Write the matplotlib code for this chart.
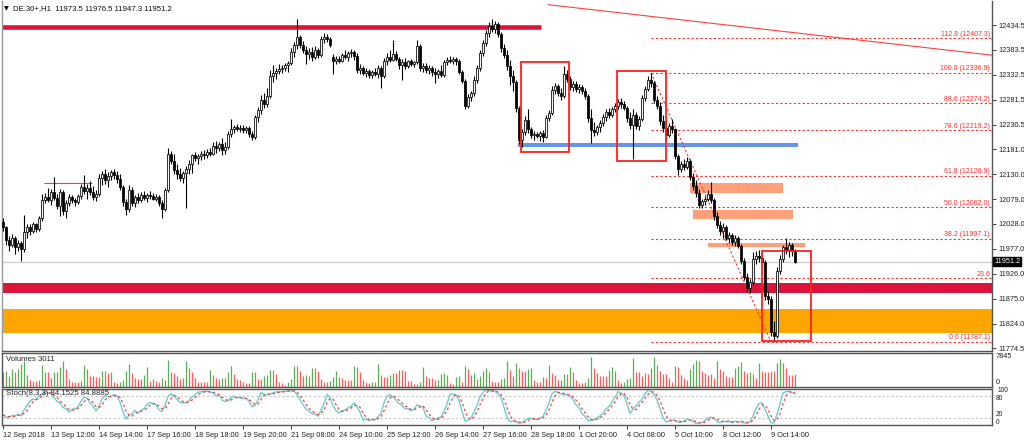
import numpy as np
import matplotlib.pyplot as plt
from matplotlib.patches import Rectangle
from matplotlib.transforms import blended_transform_factory

plt.rcParams['font.family'] = ['Liberation Sans', 'DejaVu Sans']

# DE.30+ H1 bars, 12 Sep 2018 10:00 .. 9 Oct 2018
opens = [
    12032, 12021, 11996, 11986, 12000, 11980, 11990, 11976, 12011, 12021,
    12013, 12027, 12017, 12041, 12078, 12084, 12076, 12094, 12082, 12064,
    12094, 12055, 12070, 12084, 12078, 12072, 12086, 12104, 12096, 12102,
    12094, 12084, 12090, 12122, 12130, 12118, 12126, 12134, 12128, 12120,
    12104, 12072, 12058, 12098, 12070, 12084, 12076, 12088, 12082, 12088,
    12086, 12080, 12084, 12070, 12058, 12098, 12170, 12156, 12138, 12130,
    12122, 12132, 12140, 12150, 12168, 12162, 12166, 12172, 12168, 12176,
    12172, 12188, 12184, 12192, 12180, 12186, 12212, 12222, 12226, 12222,
    12224, 12220, 12224, 12212, 12206, 12246, 12260, 12282, 12274, 12290,
    12330, 12336, 12340, 12344, 12346, 12352, 12356, 12380, 12394, 12410,
    12394, 12384, 12376, 12380, 12370, 12384, 12374, 12406, 12410, 12406,
    12370, 12360, 12366, 12362, 12374, 12370, 12378, 12380, 12372, 12342,
    12346, 12336, 12340, 12332, 12338, 12334, 12346, 12330, 12362, 12370,
    12364, 12376, 12366, 12352, 12358, 12350, 12360, 12354, 12358, 12392,
    12346, 12350, 12342, 12346, 12338, 12334, 12340, 12332, 12358, 12364,
    12360, 12366, 12362, 12338, 12320, 12270, 12288, 12296, 12322, 12346,
    12378, 12398, 12418, 12432, 12426, 12436, 12416, 12388, 12374, 12350,
    12330, 12318, 12264, 12200, 12216, 12240, 12222, 12210, 12212, 12208,
    12214, 12206, 12244, 12254, 12302, 12310, 12296, 12290, 12334, 12324,
    12308, 12314, 12304, 12308, 12300, 12290, 12244, 12220, 12216, 12226,
    12234, 12246, 12256, 12250, 12262, 12270, 12278, 12274, 12266, 12244,
    12230, 12250, 12228, 12242, 12286, 12304, 12322, 12316, 12282, 12270,
    12238, 12224, 12210, 12228, 12222, 12166, 12140, 12150, 12144, 12156,
    12124, 12106, 12092, 12066, 12074, 12080, 12090, 12078, 12044, 12026,
    12014, 12022, 12000, 12006, 11992, 12000, 11984, 11952, 11920, 11898,
    11910, 11956, 11962, 11958, 11950, 11880, 11874, 11808, 11800, 11932,
    11956, 11980, 11974, 11986, 11973.5,
]
highs = [
    12041, 12023, 12003, 12007, 12003, 11996, 11994, 12047, 12027, 12027,
    12033, 12031, 12045, 12090, 12092, 12102, 12100, 12125, 12090, 12100,
    12098, 12078, 12090, 12088, 12082, 12090, 12110, 12128, 12110, 12115,
    12106, 12098, 12130, 12136, 12140, 12134, 12138, 12140, 12136, 12130,
    12108, 12080, 12108, 12104, 12088, 12092, 12094, 12096, 12092, 12096,
    12092, 12090, 12088, 12078, 12102, 12184, 12178, 12170, 12150, 12142,
    12136, 12146, 12158, 12172, 12176, 12170, 12178, 12180, 12182, 12184,
    12196, 12198, 12196, 12204, 12196, 12218, 12242, 12230, 12232, 12230,
    12230, 12228, 12228, 12218, 12250, 12268, 12292, 12296, 12306, 12342,
    12352, 12346, 12354, 12352, 12356, 12360, 12388, 12400, 12446, 12414,
    12402, 12392, 12388, 12390, 12392, 12388, 12412, 12418, 12416, 12410,
    12376, 12372, 12372, 12378, 12384, 12382, 12386, 12384, 12378, 12354,
    12350, 12346, 12344, 12342, 12346, 12352, 12350, 12368, 12378, 12384,
    12404, 12382, 12370, 12366, 12368, 12364, 12366, 12362, 12404, 12396,
    12356, 12356, 12352, 12350, 12346, 12344, 12352, 12364, 12370, 12372,
    12370, 12370, 12366, 12342, 12324, 12294, 12300, 12330, 12352, 12384,
    12404, 12424, 12440, 12446, 12442, 12440, 12420, 12396, 12384, 12364,
    12342, 12322, 12270, 12222, 12248, 12262, 12226, 12218, 12216, 12218,
    12220, 12250, 12260, 12310, 12316, 12314, 12306, 12350, 12342, 12330,
    12320, 12320, 12314, 12312, 12306, 12294, 12262, 12236, 12230, 12240,
    12252, 12262, 12266, 12268, 12276, 12284, 12286, 12280, 12270, 12256,
    12262, 12256, 12248, 12292, 12310, 12330, 12337, 12320, 12290, 12278,
    12250, 12240, 12234, 12242, 12224, 12170, 12156, 12160, 12164, 12160,
    12132, 12118, 12100, 12080, 12086, 12098, 12114, 12082, 12052, 12034,
    12030, 12026, 12012, 12010, 12006, 12004, 11988, 11958, 11928, 11916,
    11970, 11972, 11974, 11970, 11954, 11892, 11880, 11830, 11940, 11964,
    11986, 12000, 11992, 11990, 11976.5,
]
lows = [
    12013, 11986, 11972, 11980, 11966, 11972, 11952, 11970, 12000, 12005,
    12009, 12011, 12013, 12035, 12070, 12072, 12066, 12078, 12058, 12045,
    12047, 12040, 12064, 12070, 12064, 12068, 12080, 12090, 12080, 12088,
    12078, 12074, 12086, 12108, 12110, 12104, 12118, 12120, 12112, 12098,
    12064, 12046, 12052, 12064, 12062, 12070, 12072, 12078, 12072, 12080,
    12076, 12074, 12064, 12040, 12054, 12094, 12150, 12130, 12120, 12116,
    12112, 12060, 12130, 12132, 12156, 12150, 12158, 12160, 12162, 12166,
    12168, 12174, 12178, 12168, 12172, 12182, 12206, 12214, 12218, 12216,
    12214, 12214, 12206, 12200, 12202, 12236, 12252, 12266, 12268, 12286,
    12318, 12324, 12334, 12336, 12340, 12338, 12352, 12370, 12386, 12388,
    12378, 12354, 12366, 12362, 12366, 12368, 12370, 12398, 12400, 12390,
    12334, 12354, 12356, 12358, 12366, 12362, 12370, 12364, 12336, 12334,
    12332, 12328, 12326, 12326, 12330, 12326, 12306, 12326, 12352, 12358,
    12360, 12360, 12344, 12322, 12344, 12346, 12350, 12348, 12354, 12340,
    12338, 12336, 12334, 12330, 12316, 12326, 12328, 12328, 12352, 12356,
    12354, 12352, 12334, 12316, 12262, 12264, 12280, 12290, 12316, 12340,
    12372, 12392, 12410, 12420, 12418, 12410, 12380, 12368, 12342, 12312,
    12300, 12256, 12192, 12186, 12210, 12214, 12204, 12200, 12204, 12198,
    12196, 12204, 12238, 12250, 12294, 12290, 12282, 12286, 12318, 12302,
    12300, 12298, 12296, 12294, 12284, 12236, 12194, 12208, 12210, 12216,
    12228, 12238, 12244, 12246, 12256, 12262, 12266, 12260, 12236, 12222,
    12160, 12222, 12220, 12238, 12280, 12300, 12308, 12276, 12262, 12230,
    12216, 12200, 12206, 12214, 12160, 12128, 12134, 12138, 12140, 12118,
    12098, 12084, 12060, 12060, 12066, 12074, 12070, 12036, 12020, 12006,
    12000, 11996, 11990, 11986, 11984, 11978, 11946, 11914, 11890, 11888,
    11904, 11946, 11950, 11944, 11872, 11864, 11800, 11787.1, 11796, 11926,
    11950, 11966, 11960, 11962, 11947.3,
]
closes = [
    12021, 11996, 11986, 12000, 11980, 11990, 11976, 12011, 12021, 12013,
    12027, 12017, 12041, 12078, 12084, 12076, 12094, 12082, 12064, 12094,
    12055, 12070, 12084, 12078, 12072, 12086, 12104, 12096, 12102, 12094,
    12084, 12090, 12122, 12130, 12118, 12126, 12134, 12128, 12120, 12104,
    12072, 12058, 12098, 12070, 12084, 12076, 12088, 12082, 12088, 12086,
    12080, 12084, 12070, 12058, 12098, 12170, 12156, 12138, 12130, 12122,
    12132, 12140, 12150, 12168, 12162, 12166, 12172, 12168, 12176, 12172,
    12188, 12184, 12192, 12180, 12186, 12212, 12222, 12226, 12222, 12224,
    12220, 12224, 12212, 12206, 12246, 12260, 12282, 12274, 12290, 12330,
    12336, 12340, 12344, 12346, 12352, 12356, 12380, 12394, 12410, 12394,
    12384, 12376, 12380, 12370, 12384, 12374, 12406, 12410, 12406, 12394,
    12360, 12366, 12362, 12374, 12370, 12378, 12380, 12372, 12342, 12346,
    12336, 12340, 12332, 12338, 12334, 12346, 12330, 12362, 12370, 12364,
    12376, 12366, 12352, 12358, 12350, 12360, 12354, 12358, 12392, 12346,
    12350, 12342, 12346, 12338, 12334, 12340, 12332, 12358, 12364, 12360,
    12366, 12362, 12338, 12320, 12270, 12288, 12296, 12322, 12346, 12378,
    12398, 12418, 12432, 12426, 12436, 12416, 12388, 12374, 12350, 12330,
    12318, 12264, 12200, 12216, 12240, 12222, 12210, 12212, 12208, 12214,
    12206, 12244, 12254, 12302, 12310, 12296, 12290, 12334, 12324, 12308,
    12314, 12304, 12308, 12300, 12290, 12244, 12220, 12216, 12226, 12234,
    12246, 12256, 12250, 12262, 12270, 12278, 12274, 12266, 12244, 12230,
    12250, 12228, 12242, 12286, 12304, 12322, 12316, 12282, 12270, 12238,
    12224, 12210, 12228, 12222, 12166, 12140, 12150, 12144, 12156, 12124,
    12106, 12092, 12066, 12074, 12080, 12090, 12078, 12044, 12026, 12014,
    12022, 12000, 12006, 11992, 12000, 11984, 11952, 11920, 11898, 11910,
    11956, 11962, 11958, 11950, 11880, 11874, 11808, 11800, 11932, 11956,
    11980, 11974, 11986, 11973.5, 11951.2,
]
volumes = [
    3560, 3790, 2610, 4190, 3400, 4190, 5370, 6000, 2770, 1580,
    1420, 1420, 1580, 5140, 3560, 3560, 2050, 3560, 3560, 4580,
    6000, 4190, 1820, 1030, 1030, 1030, 1420, 5140, 4190, 2610,
    2610, 2370, 2370, 3790, 3790, 3240, 3400, 1190, 790, 1030,
    1580, 3790, 5370, 3240, 1980, 1820, 1820, 2770, 4580, 1420,
    1820, 1420, 1030, 1980, 1660, 6320, 3560, 3240, 2610, 1820,
    1980, 6000, 4420, 3400, 1980, 1030, 1030, 1030, 1030, 4030,
    2770, 1980, 1820, 1980, 1980, 3560, 4820, 3000, 1820, 1660,
    1030, 790, 790, 3560, 3560, 1820, 1820, 2450, 2770, 4030,
    4030, 3000, 1030, 790, 400, 1030, 1820, 4820, 4820, 3790,
    2610, 2770, 2610, 4420, 4420, 3790, 1820, 1030, 1190, 1420,
    2210, 3790, 2210, 1980, 1580, 1580, 1580, 4980, 4580, 3560,
    1660, 1030, 790, 1030, 1030, 5370, 2770, 2210, 2210, 2770,
    3240, 3240, 4030, 3950, 3630, 1260, 1260, 630, 630, 1190,
    4580, 2610, 1980, 1980, 1580, 1660, 3000, 3160, 2770, 870,
    630, 2370, 2610, 1030, 4980, 4190, 2770, 3240, 1820, 2610,
    3790, 4420, 3560, 1260, 1030, 1030, 1820, 1980, 6000, 3950,
    2450, 5530, 4420, 3630, 3630, 4190, 4420, 1660, 1030, 1030,
    2210, 1980, 5140, 3240, 2770, 1580, 1660, 3000, 3000, 4580,
    3560, 1580, 870, 870, 1190, 1980, 7110, 4420, 3240, 2610,
    2450, 2450, 3950, 4580, 3630, 1580, 790, 1030, 1820, 2050,
    6790, 3560, 3400, 2610, 3240, 3000, 4420, 7110, 5140, 3790,
    3000, 3000, 2050, 1030, 4820, 4580, 2770, 2050, 1660, 4190,
    5370, 6320, 6000, 3790, 3240, 2770, 3000, 1980, 6000, 4190,
    3790, 2450, 2210, 2210, 4420, 4820, 5770, 3790, 3240, 3400,
    3000, 1980, 5610, 3790, 3560, 3560, 3790, 3790, 5610, 6560,
    5610, 4350, 2840, 2770, 3011,
]

date_ticks = [0, 16, 32, 48, 64, 80, 96, 112, 128, 144, 160, 176, 192, 208, 224, 240, 256]
date_labels = ['12 Sep 2018', '13 Sep 12:00', '14 Sep 14:00', '17 Sep 16:00', '18 Sep 18:00',
               '19 Sep 20:00', '21 Sep 08:00', '24 Sep 10:00', '25 Sep 12:00', '26 Sep 14:00',
               '27 Sep 16:00', '28 Sep 18:00', '1 Oct 20:00', '4 Oct 08:00', '5 Oct 10:00',
               '8 Oct 12:00', '9 Oct 14:00']
price_ticks = [12434.5, 12383.5, 12332.5, 12281.5, 12230.5, 12181.0, 12130.0,
               12079.0, 12028.0, 11977.0, 11926.0, 11875.0, 11824.0, 11774.5]

# fibonacci retracement drawn from the 4 Oct high to the 9 Oct low
fib_pct = [112.8, 100.0, 88.6, 78.6, 61.8, 50.0, 38.2, 23.6, 0.0]
fib_price = [12407.3, 12336.9, 12274.2, 12219.2, 12126.9, 12062.0, 11997.1, 11916.9, 11787.1]
fib_start, fib_end = 216, 256

# drawn objects (bar index / price)
resistance = (12430, -1, 179.3)
trend_pts = ([181.7, 335], [12476.1, 12369.2])
support_blue = (12190.4, 171.7, 265)
red_boxes = [(172.6, 188.7, 12175.1, 12359.5), (204.7, 221.0, 12156.7, 12341.2),
             (253.0, 269.3, 11788.9, 11972.8)]
salmon_boxes = [(229.0, 260.0, 12091.3, 12111.7), (230.0, 263.3, 12038.2, 12056.6),
                (235.0, 267.3, 11981.0, 11989.2)]
crimson_zone = (11886.0, 11907.4)
orange_zone = (11805.3, 11854.3)
small_line = (12111.7, 13.7, 29.7)
last_price = 11951.2

o, h, l, c = map(np.array, (opens, highs, lows, closes))
n = len(c)
x = np.arange(n)

# Stochastic 8,3,3
ll = np.array([l[max(0, i - 7):i + 1].min() for i in range(n)])
hh = np.array([h[max(0, i - 7):i + 1].max() for i in range(n)])
num, den = c - ll, hh - ll
stoch_k = np.array([num[max(0, i - 2):i + 1].sum() / den[max(0, i - 2):i + 1].sum() * 100 for i in range(n)])
stoch_d = np.array([stoch_k[max(0, i - 2):i + 1].mean() for i in range(n)])

W, H = 1024, 441
def box(x0, y0, x1, y1):
    return [x0 / W, 1 - y1 / H, (x1 - x0) / W, (y1 - y0) / H]

fig = plt.figure(figsize=(10.24, 4.41), dpi=100)
ax = fig.add_axes(box(2, 1, 992, 351))
axv = fig.add_axes(box(2, 352.5, 992, 386.5))
axs = fig.add_axes(box(2, 388.7, 992, 425.3))

xlim = (-1 / 3, 329.667)
for a in (ax, axv, axs):
    a.set_xlim(*xlim)
    for s in a.spines.values():
        s.set_color('#555555')
        s.set_linewidth(1.0)
    a.tick_params(axis='x', bottom=False, labelbottom=False)
    a.tick_params(axis='y', left=False, labelleft=False)
ax.spines['top'].set_visible(False)
ax.spines['left'].set_color('#999999')

ax.set_ylim(11768.5, 12483.6)

# zones and objects
ax.axhspan(*crimson_zone, color='#DC143C', zorder=1, lw=0)
ax.axhspan(*orange_zone, color='#FFA500', zorder=1, lw=0)
ax.axhline(last_price, color='#d0d0d0', lw=1.0, zorder=1)
ax.hlines(resistance[0], resistance[1], resistance[2], color='#DC143C', lw=3.3, zorder=2)
ax.plot(trend_pts[0], trend_pts[1], color='#FF4040', lw=0.8, zorder=2)
ax.hlines(small_line[0], small_line[1], small_line[2], color='#E0405A', lw=0.8, zorder=2)
for x0, x1, y0, y1 in salmon_boxes:
    ax.add_patch(Rectangle((x0, y0), x1 - x0, y1 - y0, color='#FFA07A', lw=0, zorder=2))
ax.hlines(support_blue[0], support_blue[1], support_blue[2], color='#6495ED', lw=2.9, zorder=2)

for pct, p in zip(fib_pct, fib_price):
    ax.hlines(p, fib_start, xlim[1], color='#FF3030', lw=0.8, linestyles=(0, (2, 2)), zorder=2)
    lab = '23.6' if pct == 23.6 else f'{pct:.1f} ({p:.1f})'
    ax.text(329.0, p + 1.5, lab, ha='right', va='bottom', fontsize=5, color='#FF3030', zorder=5)
ax.plot([fib_start, fib_end], [fib_price[1], fib_price[-1]], color='#FF3030', lw=0.8,
        ls=(0, (2, 2)), zorder=2)

# candles
up = c >= o
ax.vlines(x, l, h, color='black', lw=0.8, zorder=3)
ax.bar(x[up], (c - o)[up], bottom=o[up], width=0.72, color='#f4f4f4', edgecolor='black', lw=0.55, zorder=3)
ax.bar(x[~up], (o - c)[~up], bottom=c[~up], width=0.72, color='black', edgecolor='black', lw=0.55, zorder=3)

for x0, x1, y0, y1 in red_boxes:
    ax.add_patch(Rectangle((x0, y0), x1 - x0, y1 - y0, fill=False, edgecolor='#FF2020', lw=1.3, zorder=4))

# price axis
ax.yaxis.tick_right()
ax.set_yticks(price_ticks)
ax.set_yticklabels([f'{p:.1f}' for p in price_ticks])
ax.tick_params(axis='y', right=True, labelright=True, length=3, width=0.6, pad=1.5,
               labelsize=5.3, colors='#222222')
tr = blended_transform_factory(ax.transAxes, ax.transData)
ax.text(1.002, last_price, f'{last_price:.1f}', transform=tr, ha='left', va='center', fontsize=5.3,
        color='white', bbox=dict(facecolor='black', edgecolor='black', pad=0.8), zorder=6)
ax.text(0.002, 0.978, '\u25bc', transform=ax.transAxes, fontsize=4.5, va='center', ha='left',
        family=['DejaVu Sans'])
ax.text(0.011, 0.978, f'DE.30+,H1  {opens[-1]:.1f} {highs[-1]:.1f} {lows[-1]:.1f} {closes[-1]:.1f}',
        transform=ax.transAxes, fontsize=5.6, va='center', ha='left', color='#111111')

# volumes
v = np.array(volumes)
vcol = ['#58b058' if i > 0 and v[i] > v[i - 1] else '#ff5c5c' for i in range(n)]
axv.vlines(x, 0, v, colors=vcol, lw=0.9)
axv.set_ylim(0, 8100)
axv.text(0.004, 0.78, f'Volumes {volumes[-1]}', transform=axv.transAxes, fontsize=5.6,
         va='center', ha='left', color='#222222')
axv.text(1.004, 0.87, '7845', transform=axv.transAxes, fontsize=5.3, va='center', ha='left', color='#222222')
axv.text(1.004, 0.13, '0', transform=axv.transAxes, fontsize=5.3, va='center', ha='left', color='#222222')

# stochastic
axs.set_ylim(0, 100)
for lvl in (20, 80):
    axs.axhline(lvl, color='#c8c8c8', lw=0.8, ls=(0, (2, 2)))
axs.plot(x, stoch_k, color='#6ccfcf', lw=1.0)
axs.plot(x, stoch_d, color='#ff4040', lw=0.9, ls=(0, (2, 2)))
axs.text(0.004, 0.88, 'Stoch(8,3,3) 84.1525 84.8885', transform=axs.transAxes, fontsize=5.6,
         va='center', ha='left', color='#222222')
for txt, yy, dx in (('100', 0.96, 1.006), ('80', 0.74, 1.004), ('20', 0.29, 1.004), ('0', 0.07, 1.004)):
    axs.text(dx, yy, txt, transform=axs.transAxes, fontsize=4.8, va='center', ha='left', color='#222222')

axs.set_xticks(date_ticks)
axs.set_xticklabels(date_labels)
axs.tick_params(axis='x', bottom=True, labelbottom=True, length=3, width=0.6, pad=1.5,
                labelsize=5.3, colors='#222222')
for t in axs.get_xticklabels():
    t.set_horizontalalignment('left')

fig.savefig('out.png', dpi=100, facecolor='white')
